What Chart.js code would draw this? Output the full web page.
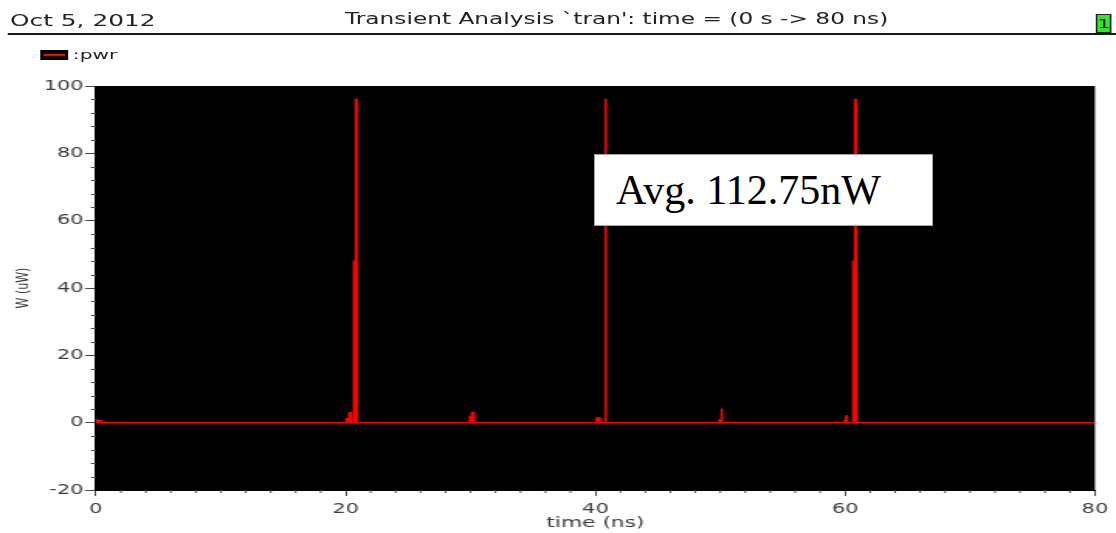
<!DOCTYPE html>
<html>
<head>
<meta charset="utf-8">
<script src="https://cdn.jsdelivr.net/npm/chart.js@4.4.1/dist/chart.umd.min.js"></script>
<style>
html,body{margin:0;padding:0;background:#fff;width:1116px;height:533px;overflow:hidden;}
#stretch{position:absolute;left:0;top:0;width:720px;height:533px;transform:scaleX(1.55);transform-origin:0 0;}
#c{position:absolute;left:0;top:0;}
.t{position:absolute;font-family:"DejaVu Sans",sans-serif;line-height:1;white-space:nowrap;color:#222;}
#date{left:6.5px;top:12.5px;font-size:16px;}
#title{left:222.6px;top:12.3px;font-size:15px;}
#rule{position:absolute;left:5.2px;top:33px;width:715px;height:1.6px;background:#1a1a1a;}
#badge{position:absolute;left:707px;top:14px;width:10px;height:19px;box-sizing:border-box;background:#2fe82f;border:1px solid #222;font-family:"DejaVu Sans",sans-serif;font-size:13px;line-height:17px;text-align:center;color:#000;}
#legbox{position:absolute;left:25.8px;top:49.5px;width:18px;height:10.5px;background:#000;}
#legline{position:absolute;left:2px;top:4.3px;width:14px;height:1.8px;background:#ff0000;}
#legtxt{left:47px;top:47.5px;font-size:13px;}
#note{position:absolute;left:594px;top:154px;width:339px;height:72px;box-sizing:border-box;background:#fff;border:1px solid #a8a8a8;}
#notetxt{position:absolute;left:21px;top:0;line-height:70px;font-family:"Liberation Serif","Times New Roman",serif;font-size:42px;color:#000;white-space:nowrap;}
</style>
</head>
<body>
<div id="stretch">
  <div class="t" id="date">Oct 5, 2012</div>
  <div class="t" id="title">Transient Analysis `tran': time = (0 s -&gt; 80 ns)</div>
  <div id="rule"></div>
  <div id="badge">1</div>
  <div id="legbox"><div id="legline"></div></div>
  <div class="t" id="legtxt">:pwr</div>
  <canvas id="c" width="720" height="533" style="width:720px;height:533px"></canvas>
</div>
<div id="note"><div id="notetxt">Avg. 112.75nW</div></div>
<script>
// ---- data (time in ns, power in uW) ----
const seriesName = ':pwr';
const timeNs = [
  0, 0.02, 0.12, 0.14, 0.35, 0.45, 0.5,
  20.05, 20.08, 20.25, 20.27, 20.45, 20.5,
  20.64, 20.66, 20.78, 20.8, 20.9, 20.92,
  29.93, 29.95, 30.08, 30.1, 30.28, 30.3,
  40.08, 40.1, 40.38, 40.4,
  40.79, 40.79, 40.84, 40.84,
  49.9, 49.93, 50.1, 50.12, 50.15, 50.16,
  59.95, 60.05, 60.1, 60.15, 60.18,
  60.62, 60.64, 60.76, 60.78, 60.88, 60.9,
  80
];
const powerUW = [
  0, 0.9, 0.9, 0, 0.6, 0.6, 0,
  0, 1.2, 1.2, 3.0, 3.0, 0,
  0, 48, 48, 96, 96, 0,
  0, 1.8, 1.8, 3.0, 3.0, 0,
  0, 1.4, 1.4, 0,
  0, 96, 96, 0,
  0, 0.8, 0.8, 4.0, 4.0, 0,
  0, 0.6, 2.0, 2.0, 0,
  0, 48, 48, 96, 96, 0,
  0
];
const xTickValues = [0, 20, 40, 60, 80];
const yTickValues = [-20, 0, 20, 40, 60, 80, 100];
const xMinorStep = 2;
const yMinorStep = 4;
const xTitle = 'time (ns)';
const yTitle = 'W (uW)';

const tickColor = '#4a4a4a';
const labelColor = '#3c3c3c';

const framePlugin = {
  id: 'frame',
  beforeDraw(chart) {
    const {ctx, chartArea: a} = chart;
    ctx.save();
    ctx.fillStyle = '#000';
    ctx.fillRect(a.left, a.top, a.right - a.left, a.bottom - a.top);
    ctx.restore();
  },
  afterDraw(chart) {
    const {ctx, chartArea: a} = chart;
    const xs = chart.scales.x, ys = chart.scales.y;
    ctx.save();
    ctx.strokeStyle = tickColor;
    ctx.lineWidth = 1;
    ctx.beginPath();
    for (let v = yTickValues[0]; v <= yTickValues[yTickValues.length - 1]; v += yMinorStep) {
      if (yTickValues.includes(v)) continue;
      const py = Math.round(ys.getPixelForValue(v)) + 0.5;
      ctx.moveTo(a.left - 3.3, py);
      ctx.lineTo(a.left, py);
    }
    for (let v = xTickValues[0]; v <= xTickValues[xTickValues.length - 1]; v += xMinorStep) {
      if (xTickValues.includes(v)) continue;
      const px = xs.getPixelForValue(v);
      ctx.moveTo(px, a.bottom);
      ctx.lineTo(px, a.bottom + 3);
    }
    ctx.stroke();
    ctx.restore();
  }
};

const points = timeNs.map((t, i) => ({x: t, y: powerUW[i]}));

new Chart(document.getElementById('c'), {
  type: 'line',
  data: {
    datasets: [{
      label: seriesName,
      data: points,
      borderColor: '#ff0000',
      backgroundColor: '#ff0000',
      borderWidth: 1.25,
      fill: 'origin',
      stepped: 'after',
      pointRadius: 0,
      tension: 0
    }]
  },
  options: {
    responsive: false,
    devicePixelRatio: 1,
    animation: false,
    layout: {padding: {left: 0, top: 86, right: 13.5, bottom: 0}},
    plugins: {legend: {display: false}, tooltip: {enabled: false}},
    scales: {
      x: {
        type: 'linear',
        min: xTickValues[0],
        max: xTickValues[xTickValues.length - 1],
        afterBuildTicks(s) { s.ticks = xTickValues.map(v => ({value: v})); },
        afterFit(s) { s.height = 43; },
        grid: {drawOnChartArea: false, drawTicks: true, tickLength: 6, color: tickColor},
        border: {display: true, color: '#000'},
        ticks: {padding: 5, color: labelColor, font: {family: 'DejaVu Sans', size: 13.5}, maxRotation: 0},
        title: {display: true, text: xTitle, color: labelColor, font: {family: 'DejaVu Sans', size: 14}, padding: {top: 0, bottom: 1}}
      },
      y: {
        type: 'linear',
        min: yTickValues[0],
        max: yTickValues[yTickValues.length - 1],
        afterBuildTicks(s) { s.ticks = yTickValues.map(v => ({value: v})); },
        afterFit(s) { s.width = 61.9; },
        grid: {drawOnChartArea: false, drawTicks: true, tickLength: 7, color: tickColor},
        border: {display: true, color: '#000'},
        ticks: {padding: 1, color: labelColor, font: {family: 'DejaVu Sans', size: 13.5}},
        title: {display: true, text: yTitle, color: labelColor, font: {family: 'DejaVu Sans', size: 11}, padding: {top: 8.2, bottom: 0}}
      }
    }
  },
  plugins: [framePlugin]
});
</script>
</body>
</html>
